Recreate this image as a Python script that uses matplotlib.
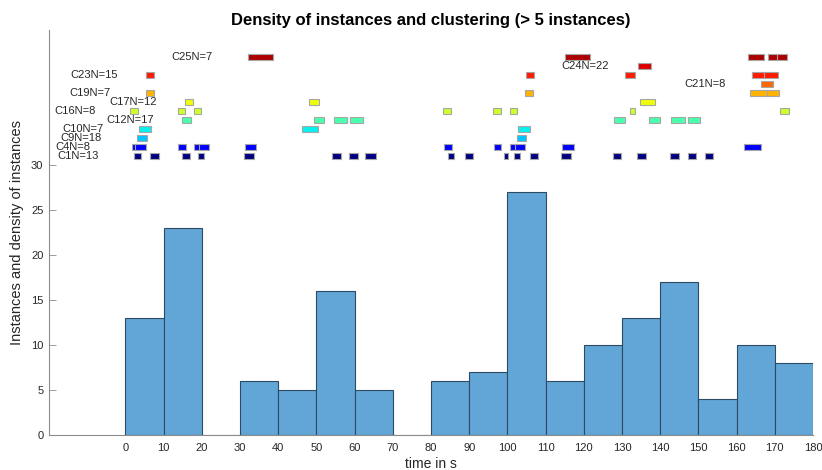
import matplotlib
matplotlib.use("Agg")
import matplotlib.pyplot as plt
from matplotlib.patches import Rectangle
import numpy as np

plt.rcParams["font.family"] = ["Liberation Sans", "DejaVu Sans"]

# histogram of instances (10 s bins)
bin_edges = np.arange(0, 190, 10)
counts = [13, 23, 0, 6, 5, 16, 5, 0, 6, 7, 27, 6, 10, 13, 17, 4, 10, 8]

# clusters with more than 5 instances
cluster_ids = [1, 4, 9, 10, 12, 16, 17, 19, 21, 23, 24, 25]
cluster_sizes = [13, 8, 18, 7, 17, 8, 12, 7, 8, 15, 22, 7]
cluster_rows = [31, 32, 33, 34, 35, 36, 37, 38, 39, 40, 41, 42]
n_clusters = 26

# (start, end) in seconds of each instance of the cluster
c1 = [(2.2, 4.1), (6.5, 8.8), (14.8, 16.9), (18.9, 20.6), (31.0, 33.6), (54.0, 56.5),
      (58.5, 60.9), (62.8, 65.5), (84.4, 85.9), (88.9, 91.0), (99.0, 100.1), (101.7, 103.4),
      (105.9, 108.1), (114.0, 116.6), (127.6, 129.8), (133.8, 136.3), (142.6, 145.0),
      (147.2, 149.4), (151.6, 153.7)]
c4 = [(1.7, 3.6), (2.4, 5.5), (13.9, 15.8), (18.0, 20.3), (19.3, 21.9), (31.4, 34.2),
      (83.4, 85.5), (96.5, 98.4), (100.8, 102.8), (101.9, 104.7), (114.4, 117.3), (161.9, 166.4)]
c9 = [(3.0, 5.6), (102.4, 104.9)]
c10 = [(3.5, 6.7), (46.3, 50.4), (102.8, 106.0)]
c12 = [(14.9, 17.1), (49.4, 52.0), (54.5, 57.9), (58.8, 62.2), (127.9, 130.8), (137.0, 139.9),
       (142.9, 146.4), (147.2, 150.4)]
c16 = [(1.3, 3.2), (13.7, 15.5), (17.9, 19.8), (83.2, 85.3), (96.3, 98.3), (100.6, 102.5),
       (132.0, 133.5), (171.3, 173.7)]
c17 = [(15.7, 17.6), (48.1, 50.7), (134.8, 138.5)]
c19 = [(5.3, 7.4), (104.5, 106.8), (163.5, 168.2), (168.0, 171.1)]
c21 = [(166.4, 169.4)]
c23 = [(5.5, 7.5), (104.8, 106.9), (130.7, 133.5), (164.0, 167.5), (167.2, 170.7)]
c24 = [(134.1, 137.7)]
c25 = [(32.1, 38.6), (115.2, 121.7), (163.1, 167.2), (168.2, 170.8), (170.5, 173.3)]
cluster_spans = [c1, c4, c9, c10, c12, c16, c17, c19, c21, c23, c24, c25]

fig = plt.figure(figsize=(8.22, 4.70), dpi=100)
ax = fig.add_axes([0.0596, 0.0745, 0.9295, 0.8615])

ax.bar(bin_edges[:-1], counts, width=10, align="edge", color="#61a6d6",
       edgecolor="#2e4a63", linewidth=0.8)

cmap = plt.get_cmap("jet")
for cid, size, row, spans in zip(cluster_ids, cluster_sizes, cluster_rows, cluster_spans):
    colore = cmap((cid - 1) / (n_clusters - 1))
    for start, end in spans:
        ax.add_patch(Rectangle((start, row - 0.37), end - start, 0.74,
                               facecolor=colore, edgecolor="0.65", linewidth=0.8))
    ax.text(spans[0][0] - 20, row, f"C{cid}N={size}", ha="left", va="center",
            fontsize=8, color="#262626")

ax.set_xlim(-20, 180)
ax.set_ylim(0, 45)
ax.set_xticks(np.arange(0, 190, 10))
ax.set_yticks(np.arange(0, 35, 5))
ax.tick_params(axis="x", length=0, labelsize=8, labelcolor="#262626", pad=6)
ax.tick_params(axis="y", direction="in", length=5, width=0.6, color="0.55",
               labelsize=8, labelcolor="#262626", pad=4)
for lato in ["top", "right"]:
    ax.spines[lato].set_visible(False)
for lato in ["left", "bottom"]:
    ax.spines[lato].set_color("0.55")
    ax.spines[lato].set_linewidth(0.8)

ax.set_title("Density of instances and clustering (> 5 instances)", fontsize=12,
             fontweight="bold", pad=4)
ax.set_xlabel("time in s", fontsize=10, color="#262626", labelpad=3)
ax.set_ylabel("Instances and density of instances", fontsize=10.5, color="#262626", labelpad=5)

fig.savefig("out.png", dpi=100)
